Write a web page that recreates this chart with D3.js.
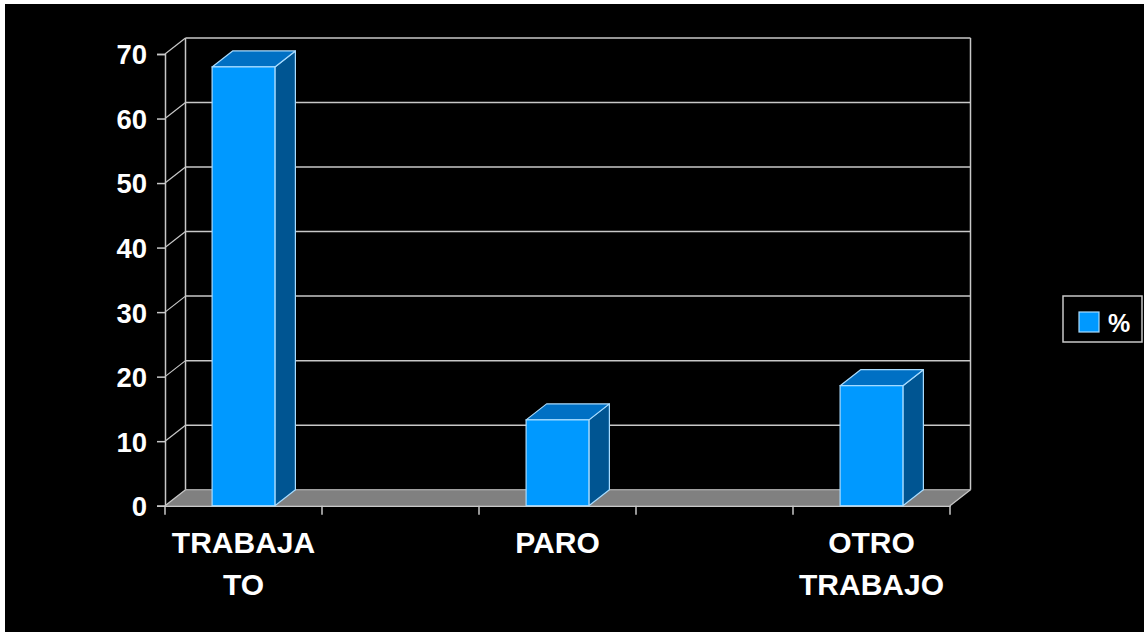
<!DOCTYPE html>
<html>
<head>
<meta charset="utf-8">
<script src="https://cdn.jsdelivr.net/npm/d3@7"></script>
<style>
  html, body { margin: 0; padding: 0; background: #000; }
  svg { display: block; }
</style>
</head>
<body>
<svg id="chart" width="1144" height="632"></svg>
<script>
// ---- data ----
const categories = ["TRABAJA\nTO", "", "PARO", "", "OTRO\nTRABAJO"];
const values = [68, null, 13.3, null, 18.6];
const yTicks = [0, 10, 20, 30, 40, 50, 60, 70];
const seriesName = "%";

// ---- layout ----
const W = 1144, H = 632;
const svg = d3.select("#chart");
const depthX = 20.5, depthY = -16;

svg.append("rect").attr("width", W).attr("height", H).attr("fill", "#000");
// white frame on top / left edges
svg.append("rect").attr("x", 0).attr("y", 0).attr("width", W).attr("height", 4).attr("fill", "#fff");
svg.append("rect").attr("x", 0).attr("y", 0).attr("width", 5).attr("height", H).attr("fill", "#fff");

const y = d3.scaleLinear().domain([0, 70]).range([505.7, 54]);
const x = d3.scaleBand().domain(d3.range(categories.length)).range([165, 950]).paddingInner(0).paddingOuter(0);

const gridCol = "#c8c8c8";
const g = svg.append("g");

// floor
const x0 = x.range()[0], x1 = x.range()[1], yb = y(0);
g.append("path")
  .attr("d", `M${x0},${yb}L${x1},${yb}L${x1 + depthX},${yb + depthY}L${x0 + depthX},${yb + depthY}Z`)
  .attr("fill", "#808080").attr("stroke", "none");

// back wall gridlines
g.selectAll(".grid").data(yTicks).join("line")
  .attr("x1", x0 + depthX).attr("x2", x1 + depthX)
  .attr("y1", d => y(d) + depthY).attr("y2", d => y(d) + depthY)
  .attr("stroke", d => d === 0 ? "#a0a0a0" : gridCol).attr("stroke-width", 1.5);
// back wall vertical edges
g.append("line").attr("x1", x0 + depthX).attr("x2", x0 + depthX)
  .attr("y1", y(70) + depthY).attr("y2", y(0) + depthY).attr("stroke", gridCol).attr("stroke-width", 1.5);
g.append("line").attr("x1", x1 + depthX).attr("x2", x1 + depthX)
  .attr("y1", y(70) + depthY).attr("y2", y(0) + depthY).attr("stroke", gridCol).attr("stroke-width", 1.5);
// side wall diagonals
g.selectAll(".diag").data(yTicks).join("line")
  .attr("x1", x0).attr("x2", x0 + depthX)
  .attr("y1", d => y(d)).attr("y2", d => y(d) + depthY)
  .attr("stroke", gridCol).attr("stroke-width", 1.2);
// floor right diagonal
g.append("line").attr("x1", x1).attr("x2", x1 + depthX)
  .attr("y1", yb).attr("y2", yb + depthY).attr("stroke", gridCol).attr("stroke-width", 1.2);

// y axis
const yAxis = d3.axisLeft(y).tickValues(yTicks).tickSize(8).tickPadding(10);
const ya = svg.append("g").attr("transform", `translate(${x0},0)`).call(yAxis);
ya.select(".domain").attr("stroke", gridCol).attr("stroke-width", 1.5);
ya.selectAll(".tick line").attr("stroke", gridCol).attr("stroke-width", 1.5);
ya.selectAll(".tick text")
  .attr("fill", "#fff").attr("font-family", "'Liberation Sans', Arial, sans-serif")
  .attr("font-weight", "bold").attr("font-size", 27.5).attr("dy", "0.36em");

// x axis
const xAxis = d3.axisBottom(x).tickSize(0).tickFormat("");
const xa = svg.append("g").attr("transform", `translate(0,${yb})`).call(xAxis);
xa.select(".domain").attr("stroke", gridCol).attr("stroke-width", 1.5);
xa.selectAll(".tick").remove();
// category boundary ticks
const bounds = d3.range(categories.length + 1).map(i => x0 + i * x.step());
xa.selectAll(".bt").data(bounds).join("line")
  .attr("x1", d => d).attr("x2", d => d).attr("y1", 0).attr("y2", 9)
  .attr("stroke", gridCol).attr("stroke-width", 1.5);

// category labels
const labG = svg.append("g");
categories.forEach((c, i) => {
  if (!c) return;
  const lines = c.split("\n");
  const t = labG.append("text")
    .attr("x", x(i) + x.bandwidth() / 2).attr("y", 553)
    .attr("text-anchor", "middle").attr("fill", "#fff")
    .attr("font-family", "'Liberation Sans', Arial, sans-serif")
    .attr("font-weight", "bold").attr("font-size", 30);
  lines.forEach((l, k) => {
    t.append("tspan").attr("x", x(i) + x.bandwidth() / 2).attr("y", 553 + k * 41.5).text(l);
  });
});

// bars
const barW = x.bandwidth() * 0.4;
const bars = categories.map((c, i) => ({ i, v: values[i] })).filter(d => d.v != null);
const outline = "#a8dcff";
const bg = svg.append("g");
bars.forEach(d => {
  const bx0 = x(d.i) + (x.bandwidth() - barW) / 2, bx1 = bx0 + barW;
  const yt = y(d.v);
  // side
  bg.append("path")
    .attr("d", `M${bx1},${yt}L${bx1 + depthX},${yt + depthY}L${bx1 + depthX},${yb + depthY}L${bx1},${yb}Z`)
    .attr("fill", "#005592").attr("stroke", outline).attr("stroke-width", 1.2).attr("stroke-linejoin", "round");
  // top
  bg.append("path")
    .attr("d", `M${bx0},${yt}L${bx1},${yt}L${bx1 + depthX},${yt + depthY}L${bx0 + depthX},${yt + depthY}Z`)
    .attr("fill", "#0070c4").attr("stroke", outline).attr("stroke-width", 1.2).attr("stroke-linejoin", "round");
  // front
  bg.append("rect")
    .attr("x", bx0).attr("y", yt).attr("width", barW).attr("height", yb - yt)
    .attr("fill", "#0099ff").attr("stroke", outline).attr("stroke-width", 1.2);
});

// legend
const lg = svg.append("g");
lg.append("rect").attr("x", 1063).attr("y", 296).attr("width", 79).attr("height", 46)
  .attr("fill", "#000").attr("stroke", "#c8c8c8").attr("stroke-width", 1.5);
lg.append("rect").attr("x", 1079).attr("y", 312).attr("width", 20).attr("height", 20)
  .attr("fill", "#0099ff").attr("stroke", outline).attr("stroke-width", 1.2);
lg.append("text").attr("x", 1108).attr("y", 332).attr("fill", "#fff")
  .attr("font-family", "'Liberation Sans', Arial, sans-serif").attr("font-weight", "bold")
  .attr("font-size", 25).text(seriesName);
</script>
</body>
</html>
